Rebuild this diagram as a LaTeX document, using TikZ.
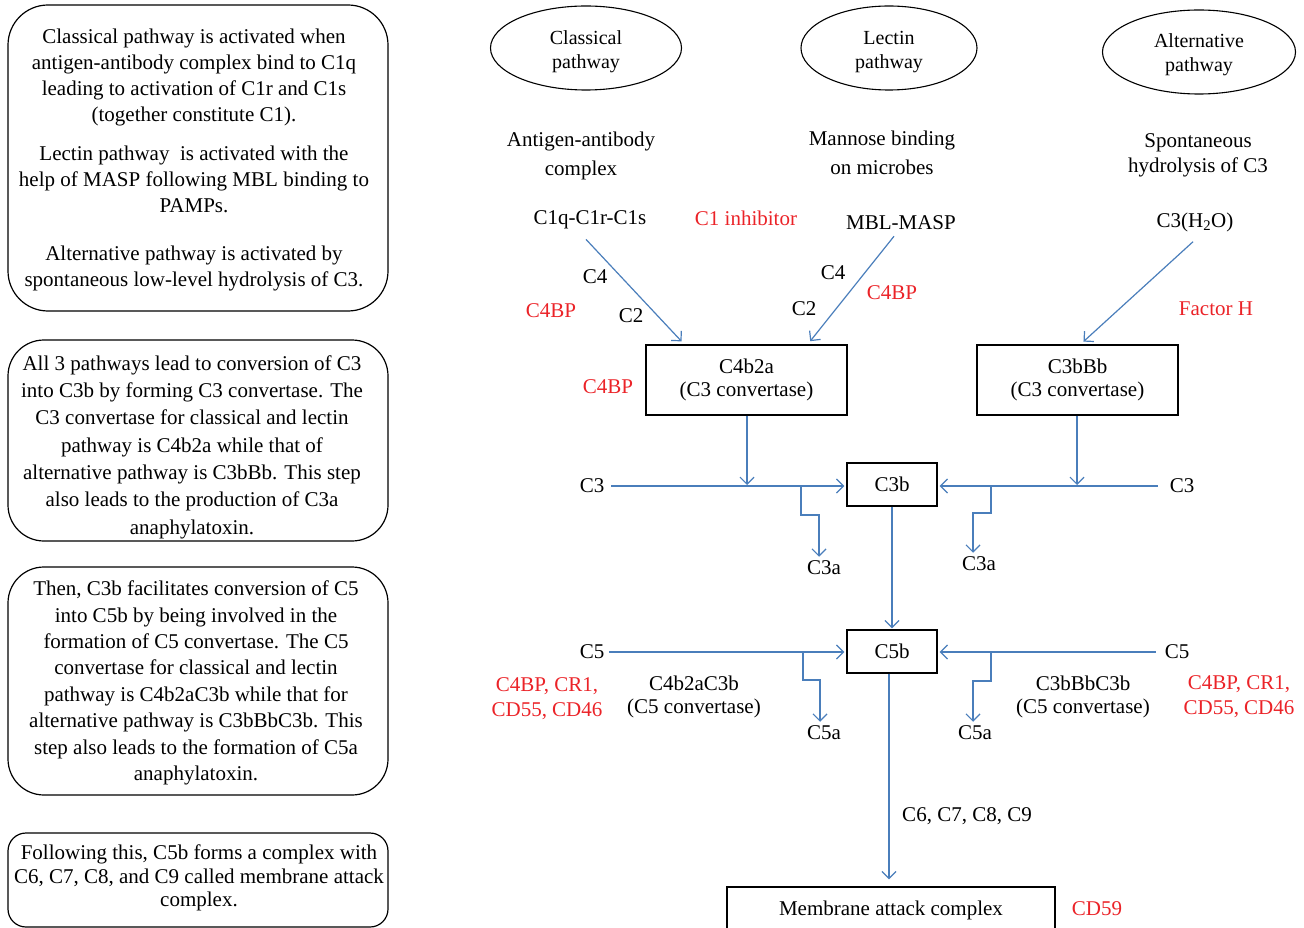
\documentclass[tikz,border=0pt]{standalone}
\usepackage{fontspec}
\setmainfont{Liberation Serif}
\usetikzlibrary{shapes.geometric,arrows.meta,calc}
\definecolor{arrblue}{RGB}{74,126,187}
\definecolor{inhred}{RGB}{235,35,40}
\begin{document}
\begin{tikzpicture}[x=1pt,y=-1pt,
  lbl/.style={inner sep=2pt,font=\fontsize{21}{24}\selectfont,align=center},
  redlbl/.style={lbl,text=inhred},
  infobox/.style={draw,line width=1.2pt,inner sep=0pt},
  infotext/.style={inner sep=0pt,align=center,font=\fontsize{21}{26}\selectfont},
  pathell/.style={draw,ellipse,line width=1.1pt,inner sep=0pt},
  elltext/.style={inner sep=0pt,align=center,font=\fontsize{20}{24}\selectfont},
  cbox/.style={draw,line width=1.4pt,inner sep=0pt,align=center,font=\fontsize{21}{23}\selectfont},
  arr/.style={draw=arrblue,line width=1.2pt,-{Straight Barb[length=7pt,width=14pt]}},
  ln/.style={draw=arrblue,line width=1.2pt}]
\useasboundingbox (0,0) rectangle (1304,928);

% left info boxes
\draw[infobox,rounded corners=40pt] (8,5) rectangle (388,311);
\draw[infobox,rounded corners=36pt] (8,340) rectangle (388,541);
\draw[infobox,rounded corners=36pt] (8,567) rectangle (388,795);
\draw[infobox,rounded corners=18pt] (8,833) rectangle (388,927);

\node[infotext] (t1) at (194,160) {Classical pathway is activated when\\
antigen-antibody complex bind to C1q\\
leading to activation of C1r and C1s\\
(together constitute C1).\\[13pt]
Lectin pathway\ \ is activated with the\\
help of MASP following MBL binding to\\
PAMPs.\\[22pt]
Alternative pathway is activated by\\
spontaneous low-level hydrolysis of C3.};

\node[infotext,font=\fontsize{21}{27.3}\selectfont] (t2) at (192,447) {All 3 pathways lead to conversion of C3\\
into C3b by forming C3 convertase. The\\
C3 convertase for classical and lectin\\
pathway is C4b2a while that of\\
alternative pathway is C3bBb. This step\\
also leads to the production of C3a\\
anaphylatoxin.};

\node[infotext,font=\fontsize{21}{26.4}\selectfont] (t3) at (196,683) {Then, C3b facilitates conversion of C5\\
into C5b by being involved in the\\
formation of C5 convertase. The C5\\
convertase for classical and lectin\\
pathway is C4b2aC3b while that for\\
alternative pathway is C3bBbC3b. This\\
step also leads to the formation of C5a\\
anaphylatoxin.};

\node[infotext,font=\fontsize{21}{23.5}\selectfont] (t4) at (199,878) {Following this, C5b forms a complex with\\
C6, C7, C8, and C9 called membrane attack\\
complex.};

% pathway ellipses
\node[pathell,minimum width=191pt,minimum height=84pt] (classical) at (586,48) {};
\node[pathell,minimum width=176pt,minimum height=84pt] (lectin) at (889,48) {};
\node[pathell,minimum width=193pt,minimum height=84pt] (alternative) at (1199,52) {};
\node[elltext] (classicalt) at ([yshift=-4pt]classical.center) {Classical\\pathway};
\node[elltext] (lectint) at ([yshift=-4pt]lectin.center) {Lectin\\pathway};
\node[elltext] (alternativet) at ([yshift=-3pt]alternative.center) {Alternative\\pathway};

% triggers
\node[lbl,font=\fontsize{21}{29}\selectfont] (ag) at (581,156) {Antigen-antibody\\complex};
\node[lbl,font=\fontsize{21}{29}\selectfont] (mann) at (882,153) {Mannose binding\\on microbes};
\node[lbl,font=\fontsize{21}{25}\selectfont] (spont) at (1198,155) {Spontaneous\\hydrolysis of C3};

\node[lbl] (c1q) at (590,220) {C1q-C1r-C1s};
\node[redlbl] (c1inh) at (746,218) {C1 inhibitor};
\node[lbl] (mbl) at (901,223) {MBL-MASP};
\node[lbl] (c3h2o) at (1195,222) {C3(H\textsubscript{2}O)};

\node[lbl] (c4a) at (595,277) {C4};
\node[lbl] (c2a) at (631,316) {C2};
\node[redlbl] (c4bp1) at (551,311) {C4BP};
\node[lbl] (c4b) at (833,273) {C4};
\node[lbl] (c2b) at (804,309) {C2};
\node[redlbl] (c4bp2) at (892,293) {C4BP};
\node[redlbl] (fh) at (1216,309) {Factor H};
\node[redlbl] (c4bp3) at (608,387) {C4BP};

% convertase boxes
\node[cbox,minimum width=201pt,minimum height=70pt] (c4b2a) at (746.5,380) {C4b2a\\(C3 convertase)};
\node[cbox,minimum width=201pt,minimum height=70pt] (c3bbb) at (1077.5,380) {C3bBb\\(C3 convertase)};
\node[cbox,minimum width=90pt,minimum height=43pt] (c3b) at (892,484.5) {C3b};
\node[cbox,minimum width=90pt,minimum height=43pt] (c5b) at (892,651.5) {C5b};
\node[cbox,minimum width=328pt,minimum height=46pt] (mac) at (891,910) {Membrane attack complex};
\node[redlbl] (cd59) at (1097,909) {CD59};

% C3 level labels
\node[lbl] (c3l) at (592,486) {C3};
\node[lbl] (c3r) at (1182,486) {C3};
\node[lbl] (c3al) at (824,568) {C3a};
\node[lbl] (c3ar) at (979,564) {C3a};

% C5 level labels
\node[lbl] (c5l) at (592,652) {C5};
\node[lbl] (c5r) at (1177,652) {C5};
\node[lbl] (c5al) at (824,733) {C5a};
\node[lbl] (c5ar) at (975,733) {C5a};
\node[lbl,font=\fontsize{21}{23}\selectfont] (c5conv1) at (694,697) {C4b2aC3b\\(C5 convertase)};
\node[lbl,font=\fontsize{21}{23}\selectfont] (c5conv2) at (1083,697) {C3bBbC3b\\(C5 convertase)};
\node[redlbl,font=\fontsize{21}{25}\selectfont] (regl) at (547,699) {C4BP, CR1,\\CD55, CD46};
\node[redlbl,font=\fontsize{21}{25}\selectfont] (regr) at (1239,697) {C4BP, CR1,\\CD55, CD46};
\node[lbl] (c6c9) at (967,816) {C6, C7, C8, C9};

% branch points
\coordinate (b3l) at (801,485);
\coordinate (b3r) at (991,485);
\coordinate (b5l) at (803,651);
\coordinate (b5r) at (991,651);

% diagonal arrows
\draw[arr,shorten >=4pt] ([xshift=-4pt,yshift=-8pt]c1q.south) -- ([xshift=39pt]c4b2a.north west);
\draw[arr,shorten >=4pt] ([xshift=-7pt,yshift=-4pt]mbl.south) -- ([xshift=-40pt]c4b2a.north east);
\draw[arr,shorten >=4pt] ([xshift=-2pt,yshift=-8pt]c3h2o.south) -- ([xshift=3pt]c3bbb.north);

% C3 level
\draw[arr,shorten >=2pt] ([xshift=5pt]c3l.east) -- (c3l.east -| c3b.west);
\draw[arr,shorten >=2pt] ([xshift=-10pt]c3r.west) -- (c3r.west -| c3b.east);
\draw[arr] ([xshift=0.5pt]c4b2a.south) -- ([xshift=0.5pt]c4b2a.south |- b3l);
\draw[arr] ([xshift=-0.5pt]c3bbb.south) -- ([xshift=-0.5pt]c3bbb.south |- b3r);
\draw[arr] (b3l) -- ++(0,30) -| ([xshift=-5pt,yshift=2pt]c3al.north);
\draw[arr] (b3r) -- ++(0,28) -| ([xshift=-6pt,yshift=2pt]c3ar.north);

% C3b to C5b
\draw[arr,shorten >=1pt] (c3b.south) -- (c5b.north);

% C5 level
\draw[arr,shorten >=2pt] ([xshift=3pt]c5l.east) -- (c5l.east -| c5b.west);
\draw[arr,shorten >=2pt] ([xshift=-7pt]c5r.west) -- (c5r.west -| c5b.east);
\draw[arr] (b5l) -- ++(0,29) -| ([xshift=-4pt,yshift=2pt]c5al.north);
\draw[arr] (b5r) -- ++(0,30) -| ([xshift=-2pt,yshift=2pt]c5ar.north);

% C5b to MAC
\draw[arr,shorten >=7pt] ([xshift=-3pt]c5b.south) -- ([xshift=-2pt]mac.north);
\end{tikzpicture}
\end{document}
